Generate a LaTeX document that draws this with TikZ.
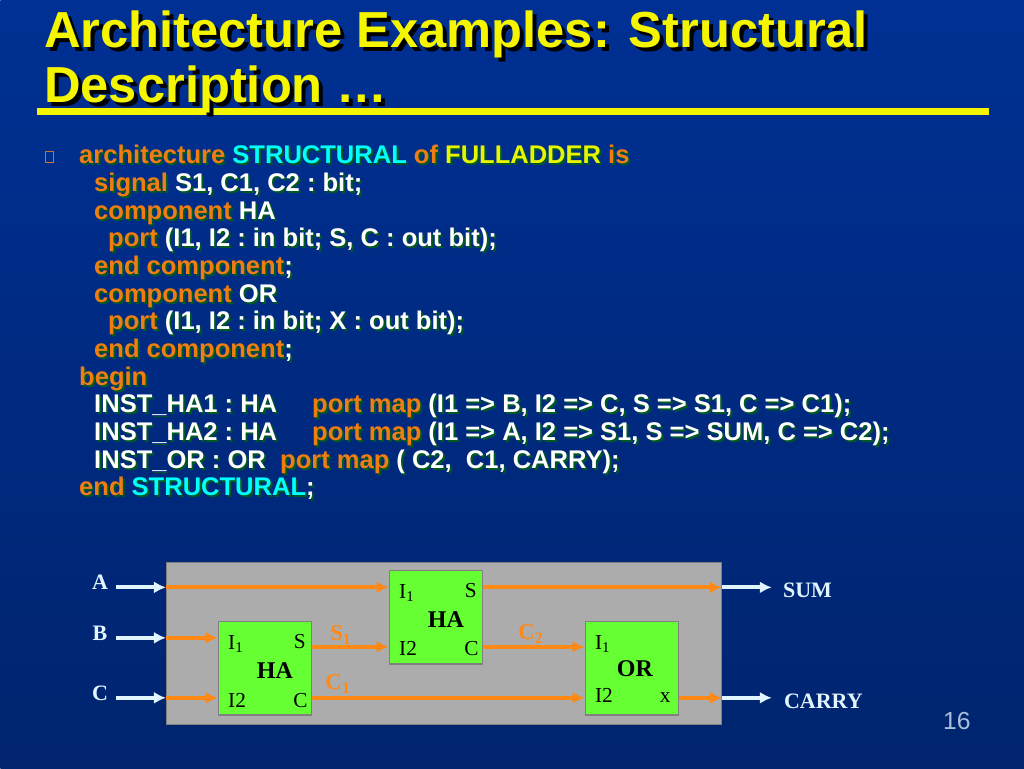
\documentclass[tikz,border=0pt]{standalone}
\usepackage{fontspec}
\setmainfont{Liberation Serif}
\setsansfont{Liberation Sans}
\usetikzlibrary {positioning}
\usetikzlibrary {arrows.meta}
\definecolor{slidetop}{RGB}{0,48,148}
\definecolor{slidebot}{RGB}{0,36,110}
\definecolor{titleyellow}{RGB}{245,245,0}
\definecolor{kwcol}{RGB}{240,125,20}
\definecolor{idcol}{RGB}{255,255,255}
\definecolor{namecol}{RGB}{0,255,255}
\definecolor{unitcol}{RGB}{232,245,0}
\definecolor{codeshadow}{RGB}{0,88,35}
\definecolor{wirecol}{RGB}{255,137,20}
\definecolor{boxgreen}{RGB}{102,255,51}
\definecolor{panelgray}{RGB}{172,172,172}
\definecolor{pinwhite}{RGB}{225,245,255}
\newcommand{\kw}[1]{\textcolor{kwcol}{#1}}
\newcommand{\nm}[1]{\textcolor{namecol}{#1}}
\newcommand{\un}[1]{\textcolor{unitcol}{#1}}
\tikzset{
titletext/.style={anchor=base west,inner sep=0pt,font=\fontsize{38}{38}\sffamily\bfseries}
}
\tikzset{
codetext/.style={anchor=base west,inner sep=0pt,font=\fontsize{19.15}{19.15}\sffamily\bfseries\frenchspacing}
}
\tikzset{
boxHA/.style={rectangle,minimum height=70pt,minimum width=70pt,inner sep=0pt,draw=gray,line width=1pt,fill=boxgreen}
}
\tikzset{
pinlabel/.style={inner sep=0pt,font=\fontsize{16}{16}\selectfont}
}
\tikzset{
boxname/.style={inner sep=0pt,font=\fontsize{18}{18}\selectfont\bfseries}
}
\tikzset{
wirename/.style={inner sep=0pt,text=wirecol,font=\fontsize{17}{17}\selectfont\bfseries}
}
\tikzset{
signame/.style={inner sep=0pt,text=pinwhite,font=\fontsize{16.5}{16.5}\selectfont\bfseries}
}
\tikzset{
wire/.style={draw=wirecol,line width=2.8pt,-{Latex[length=9pt,width=9pt]}}
}
\tikzset{
pinarrow/.style={draw=pinwhite,line width=2.8pt,-{Latex[length=9pt,width=9pt]}}
}
% one line of the listing, shadow first
\newcommand{\codeline}[4]{
\node[codetext,text=codeshadow] (#1s) at (#2+2,#3+2) {\colorlet{kwcol}{codeshadow}\colorlet{namecol}{codeshadow}\colorlet{unitcol}{codeshadow}#4};
\node[codetext,text=idcol] (#1) at (#2,#3) {#4};
}
\begin{document}
\begin{tikzpicture}[x=0.75pt,y=-0.75pt]

\node[inner sep=0pt,minimum width=768pt,minimum height=576pt,anchor=north west,top color=slidetop,bottom color=slidebot,shading angle=0] (slide) at (0,0) {};
\useasboundingbox (0,0) rectangle (1024,768);
%------------------------------------------------------------------------------------------------------------%
\node[inner sep=0pt,minimum width=714pt,minimum height=5.5pt,fill=titleyellow,anchor=west] (rule) at (37,111.5) {};
\node[titletext,text=black] (T1s) at (48,52) {Architecture Examples: Structural};
\node[titletext,text=titleyellow] (T1) at (44,48) {Architecture Examples: Structural};
\node[titletext,text=black] (T2s) at (48,107) {Description …};
\node[titletext,text=titleyellow] (T2) at (44,103) {Description …};
%------------------------------------------------------------------------------------------------------------%
\node[rectangle,draw=kwcol!85!slidetop,line width=0.7pt,minimum width=6pt,minimum height=8.5pt,inner sep=0pt] (bullet) at (49.5,157) {};
\codeline{L1}{79}{164}{\kw{architecture} \nm{STRUCTURAL} \kw{of} \un{FULLADDER} \kw{is}}
\codeline{L2}{94}{191.7}{\kw{signal} S1, C1, C2 : bit;}
\codeline{L3}{94}{219.3}{\kw{component} HA}
\codeline{L4}{108}{247}{\kw{port} (I1, I2 : in bit; S, C : out bit);}
\codeline{L5}{94}{274.7}{\kw{end component};}
\codeline{L6}{94}{302.3}{\kw{component} OR}
\codeline{L7}{108}{330}{\kw{port} (I1, I2 : in bit; X : out bit);}
\codeline{L8}{94}{357.7}{\kw{end component};}
\codeline{L9}{79}{385.3}{\kw{begin}}
\codeline{L10}{94}{413}{INST\_HA1 : HA}
\codeline{L10b}{312}{413}{\kw{port map} (I1 => B, I2 => C, S => S1, C => C1);}
\codeline{L11}{94}{440.7}{INST\_HA2 : HA}
\codeline{L11b}{312}{440.7}{\kw{port map} (I1 => A, I2 => S1, S => SUM, C => C2);}
\codeline{L12}{94}{468.3}{INST\_OR : OR}
\codeline{L12b}{280}{468.3}{\kw{port map} ( C2,\ \ C1, CARRY);}
\codeline{L13}{79}{496}{\kw{end} \nm{STRUCTURAL};}
%------------------------------------------------------------------------------------------------------------%
\node[rectangle,draw=gray,line width=0.8pt,fill=panelgray,minimum width=416.5pt,minimum height=121.5pt,inner sep=0pt,anchor=north west] (panel) at (166,562) {};
\node[boxHA] (HAa) at (265,668.5) {};
\node[boxHA] (HAb) at (436,617.5) {};
\node[boxHA] (ORg) at (632,668.5) {};
%------------------------------------------------------------------------------------------------------------%
\node[boxname] (HAaN) at (275,671) {HA};
\node[pinlabel,anchor=west] (HAaA) at (228,644) {I\textsubscript{1}};
\node[pinlabel,anchor=west] (HAaB) at (228,701) {I2};
\node[pinlabel,anchor=east] (HAaS) at (306,642) {S};
\node[pinlabel,anchor=east] (HAaC) at (308,701) {C};
\node[boxname] (HAbN) at (446,620) {HA};
\node[pinlabel,anchor=west] (HAbA) at (399,593) {I\textsubscript{1}};
\node[pinlabel,anchor=west] (HAbB) at (399,649) {I2};
\node[pinlabel,anchor=east] (HAbS) at (477,591) {S};
\node[pinlabel,anchor=east] (HAbC) at (479,649) {C};
\node[boxname] (ORgN) at (635,669) {OR};
\node[pinlabel,anchor=west] (ORgA) at (595,644) {I\textsubscript{1}};
\node[pinlabel,anchor=west] (ORgB) at (595,696) {I2};
\node[pinlabel,anchor=east] (ORgX) at (671,698) {x};
%------------------------------------------------------------------------------------------------------------%
\coordinate (inA) at (166,587.5);
\coordinate (inB) at (166,638);
\coordinate (inC) at (166,698);
\coordinate (outS) at (722,587.5);
\coordinate (outC) at (722,698);
\coordinate (midS) at (389,647);
\coordinate (midC) at (585,647);
\coordinate (farA) at (116,587.5);
\coordinate (farB) at (116,638);
\coordinate (farC) at (116,698);
\coordinate (farS) at (772,587.5);
\coordinate (farO) at (772,698);
\draw[wire] (inA) -- (HAb.west |- inA);
\draw[wire] (inB) -- (HAa.west |- inB);
\draw[wire] (inC) -- (HAa.west |- inC);
\draw[wire] (HAa.east |- midS) -- (HAb.west |- midS);
\draw[wire] (HAb.east |- midC) -- (ORg.west |- midC);
\draw[wire] (HAa.east |- inC) -- (ORg.west |- inC);
\draw[wire] (HAb.east |- outS) -- (outS);
\draw[wire] (ORg.east |- outC) -- (outC);
\draw[pinarrow] (farA) -- (inA);
\draw[pinarrow] (farB) -- (inB);
\draw[pinarrow] (farC) -- (inC);
\draw[pinarrow] (outS) -- (farS);
\draw[pinarrow] (outC) -- (farO);
%------------------------------------------------------------------------------------------------------------%
\node[wirename] (S1w) at (341,635) {S\textsubscript{1}};
\node[wirename] (C1w) at (338,684) {C\textsubscript{1}};
\node[wirename] (C2w) at (531,634) {C\textsubscript{2}};
\node[signame] (sigA) at (100,582) {A};
\node[signame] (sigB) at (100,633) {B};
\node[signame] (sigC) at (100,693) {C};
\node[signame,anchor=west] (sigS) at (783,590) {SUM};
\node[signame,anchor=west] (sigO) at (784,701) {CARRY};
\node[inner sep=0pt,text=pinwhite!75!slidebot,font=\fontsize{18.5}{18.5}\sffamily] (pageno) at (957,721) {16};

\end{tikzpicture}
\end{document}
